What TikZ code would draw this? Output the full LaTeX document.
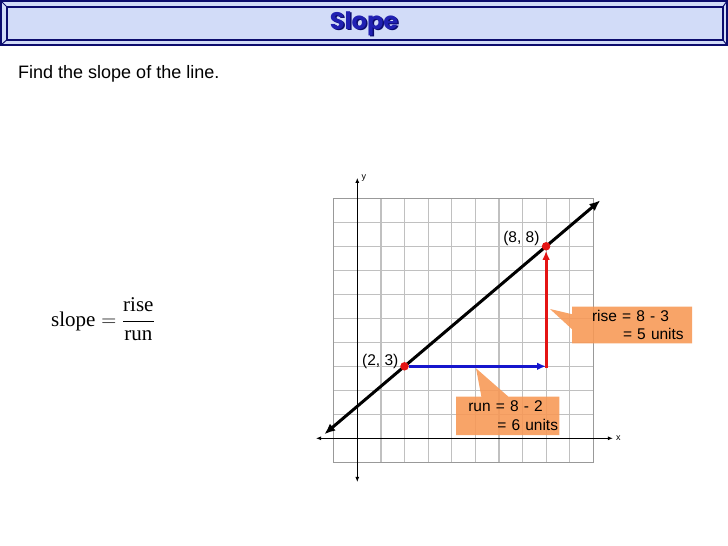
\documentclass[tikz,border=0pt]{standalone}
\usepackage{fontspec}
\setmainfont{Liberation Serif}
\setsansfont{Liberation Sans}
\newfontfamily\titlefont{Poppins}
\usetikzlibrary{arrows.meta,shapes.callouts}

\definecolor{bannerblue}{RGB}{210,220,248}
\definecolor{bannernavy}{RGB}{12,12,110}
\definecolor{titleblue}{RGB}{32,32,178}
\definecolor{calloutorange}{RGB}{248,152,84}
\definecolor{gridgray}{RGB}{192,192,192}
\definecolor{runblue}{RGB}{22,22,205}
\definecolor{risered}{RGB}{228,20,20}

\tikzset{
  gridline/.style={draw=gridgray, line width=1.2pt},
  axisline/.style={line width=0.9pt, {Latex[length=5pt,width=4pt]}-{Latex[length=5pt,width=4pt]}},
  slopeline/.style={line width=3pt, {Latex[length=11pt,width=9pt]}-{Latex[length=11pt,width=9pt]}},
  legarrow/.style={line width=2.8pt, -{Latex[length=9pt,width=7.5pt]}},
  ptdot/.style={circle, fill=risered, inner sep=0pt, minimum size=8.5pt},
  ptlabel/.style={font=\sffamily\fontsize{15.5}{18}\selectfont, inner sep=1pt},
  axislabel/.style={font=\sffamily\fontsize{9}{10}\selectfont, inner sep=1pt},
  calloutbox/.style={rectangle callout, fill=calloutorange, fill opacity=0.88, text opacity=1,
    font=\sffamily\fontsize{15.5}{18.4}\selectfont, align=left, inner ysep=0pt}
}

\begin{document}
\begin{tikzpicture}[x=1pt, y=-1pt]
  \useasboundingbox (0,0) rectangle (728,546);
  \fill[white] (0,0) rectangle (728,546);

  % Title banner with bevelled frame
  \fill[bannerblue] (1,1) rectangle (727,45);
  \draw[bannernavy, line width=1.2pt] (1,1) rectangle (727,45);
  \draw[bannernavy, line width=1.6pt] (6.7,6.7) rectangle (723,40);
  \draw[bannernavy, line width=1pt] (1,1) -- (6.7,6.7) (727,1) -- (723,6.7)
    (1,45) -- (6.7,40) (727,45) -- (723,40);
  \node[text=bannernavy, font=\titlefont\bfseries\fontsize{24}{26}\selectfont] (titleshadow) at (365.5,25) {Slope};
  \node[text=titleblue, font=\titlefont\bfseries\fontsize{24}{26}\selectfont] (title) at (364,23.5) {Slope};

  % Question and formula
  \node[anchor=base west, font=\sffamily\fontsize{18}{21}\selectfont, inner sep=0pt] (question) at (18,78) {Find the slope of the line.};
  \node[anchor=base west, font=\rmfamily\fontsize{21}{25}\selectfont, inner sep=0pt] (formula) at (51,326)
    {$\mbox{slope}=\displaystyle\frac{\mbox{rise}}{\mbox{run}}$};

  \begin{scope}[shift={(357.3,438.3)}, x=23.6pt, y=24pt]
    % Grid and axes
    \draw[gridline, step=1] (-1,-1) grid (10,10);
    \draw[draw=gray!80, line width=1.2pt] (-1,-1) rectangle (10,10);
    \coordinate (xmin) at (-1.75,0);
    \coordinate (xmax) at (10.83,0);
    \coordinate (ymin) at (0,-1.82);
    \coordinate (ymax) at (0,10.85);
    \draw[axisline] (xmin) -- (xmax);
    \draw[axisline] (ymin) -- (ymax);
    \node[axislabel, anchor=west] (xlabel) at ([xshift=2pt]xmax) {x};
    \node[axislabel, anchor=west] (ylabel) at ([xshift=3pt]ymax) {y};
  \end{scope}

  % Callouts over the grid
  \node[calloutbox, callout absolute pointer={(550,309)}, callout pointer width=15pt,
    text width=100pt, inner xsep=10pt, minimum height=36.6pt] (risecallout) at (632,325)
    {\hspace*{10pt}\makebox[0pt][l]{rise = 8 - 3}\\\hspace*{41pt}\makebox[0pt][l]{= 5 units}};
  \node[calloutbox, callout absolute pointer={(476,368.3)}, callout pointer width=27pt,
    text width=91.3pt, inner xsep=6pt, minimum height=38.3pt] (runcallout) at (507.65,415.85)
    {\hspace*{6.3pt}\makebox[0pt][l]{run = 8 - 2}\\\hspace*{35.3pt}\makebox[0pt][l]{= 6 units}};

  \begin{scope}[shift={(357.3,438.3)}, x=23.6pt, y=24pt]
    % The line through both points
    \coordinate (lineA) at (-1.4,0.167);
    \coordinate (lineB) at (10.3,9.917);
    \draw[slopeline] (lineA) -- (lineB);

    % Run and rise
    \node[ptdot] (p23) at (2,3) {};
    \node[ptdot] (p88) at (8,8) {};
    \coordinate (corner) at (8,3);
    \draw[legarrow, runblue] (p23) -- (corner);
    \draw[legarrow, risered] ([yshift=-1.4pt]corner) -- (p88.south);

    \node[ptlabel, anchor=east] (lbl23) at ([xshift=-0.5pt,yshift=4.5pt]p23.west) {(2, 3)};
    \node[ptlabel, anchor=east] (lbl88) at ([xshift=-1pt,yshift=8pt]p88.west) {(8, 8)};
  \end{scope}
\end{tikzpicture}
\end{document}
